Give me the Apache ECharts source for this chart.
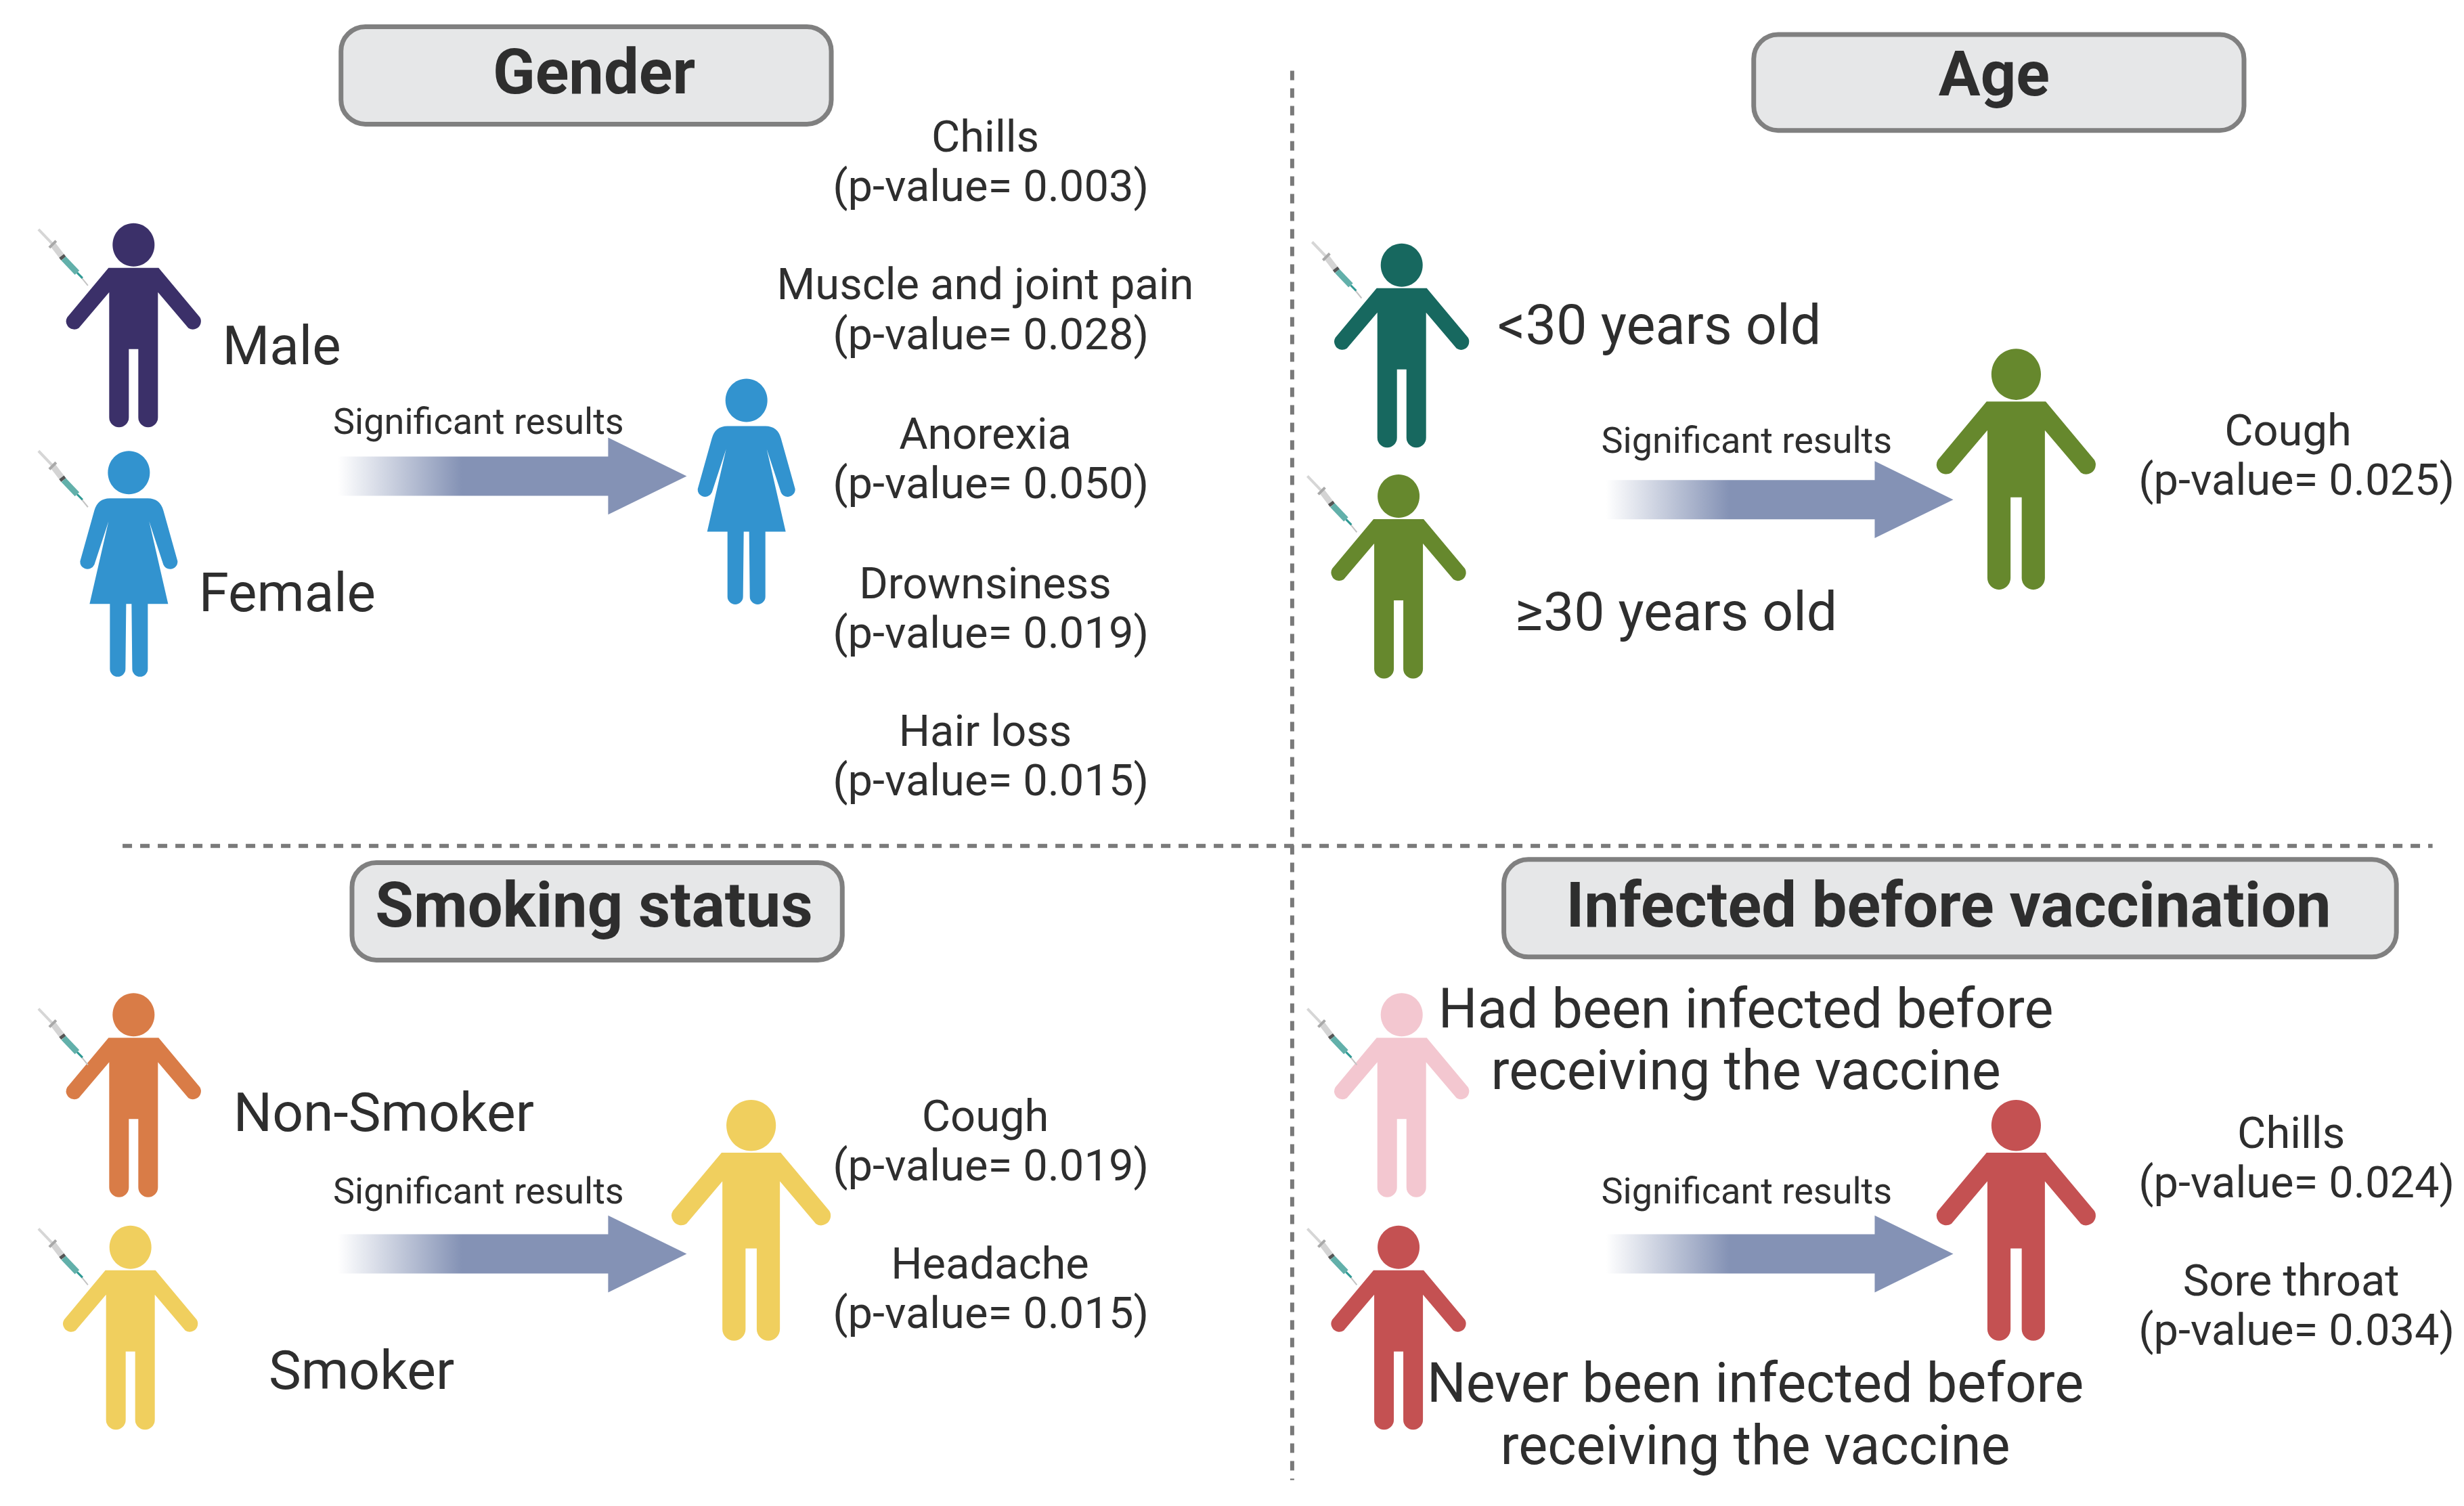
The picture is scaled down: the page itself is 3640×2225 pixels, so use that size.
<!DOCTYPE html>
<html lang="en">
<head>
    <meta charset="utf-8">
    <title>Significant results by group</title>
    <script type="text/javascript" src="https://cdn.jsdelivr.net/npm/echarts@6/dist/echarts.min.js"></script>
    <style>
        html, body { margin: 0; padding: 0; background: #fff; }
        #main { width: 3640px; height: 2225px; }
    </style>
</head>
<body>
<div id="main"></div>
<script>
    // text content
    var panelTitles = ['Gender', 'Age', 'Smoking status', 'Infected before vaccination'];
    var arrowLabel = 'Significant results';
    var genderSymptoms = ['Chills', 'Muscle and joint pain', 'Anorexia', 'Drownsiness', 'Hair loss'];
    var genderPValues = ['0.003', '0.028', '0.050', '0.019', '0.015'];
    var ageSymptoms = ['Cough'];
    var agePValues = ['0.025'];
    var smokingSymptoms = ['Cough', 'Headache'];
    var smokingPValues = ['0.019', '0.015'];
    var infectedSymptoms = ['Chills', 'Sore throat'];
    var infectedPValues = ['0.024', '0.034'];

    // coordinates below are measured on a 1568 wide view, S brings them to page size
    var S = 3640 / 1568;
    var TEXT_COLOR = '#2e2e2e';
    var FONT = 'Roboto';

    var MALE_PATH = 'M-37,66 L37,66 L98,139 A12,12 0 0 1 81,155 L36,102 L36,287 A14.5,14.5 0 0 1 7,287 L7,186 L-7,186 L-7,287 A14.5,14.5 0 0 1 -36,287 L-36,102 L-81,155 A12,12 0 0 1 -98,139 L-37,66 Z';
    var FEMALE_PATH = 'M-28,70 L28,70 Q46,70 51,88 L72,163 A11,11 0 0 1 51,168 L30,104 L58,226 L28,226 L28,322 A11.5,11.5 0 0 1 5,322 L4,226 L-4,226 L-5,322 A11.5,11.5 0 0 1 -28,322 L-28,226 L-58,226 L-30,104 L-51,168 A11,11 0 0 1 -72,163 L-51,88 Q-46,70 -28,70 Z';

    // the graphic component has no plain path type, so the two bodies are registered as shapes
    echarts.graphic.registerShape('maleBody', echarts.graphic.extendPath(MALE_PATH, {}));
    echarts.graphic.registerShape('femaleBody', echarts.graphic.extendPath(FEMALE_PATH, {}));

    var elements = [];

    function person(cx, top, color, scale, female) {
        elements.push({
            type: 'group',
            x: cx * S,
            y: top * S,
            scaleX: scale,
            scaleY: scale,
            children: [
                { type: 'ellipse', shape: { cx: 0, cy: 32, rx: 31, ry: 32 }, style: { fill: color } },
                { type: female ? 'femaleBody' : 'maleBody', style: { fill: color } }
            ]
        });
    }

    function syringe(x, y) {
        function seg(x1, y1, x2, y2, color, w) {
            return {
                type: 'line',
                shape: { x1: x1, y1: y1, x2: x2, y2: y2 },
                style: { stroke: color, lineWidth: w }
            };
        }
        elements.push({
            type: 'group',
            x: x * S,
            y: y * S,
            children: [
                seg(0, 0, 21, 22, '#d6d6d6', 4),
                seg(60, 67, 73, 83, '#c4c4c4', 2),
                seg(21, 22, 34, 39, '#d4d4d4', 9),
                seg(16, 27, 26, 17, '#a9a9a9', 4),
                seg(34, 39, 37, 43, '#555555', 9),
                seg(37, 43, 57, 64, '#62b0aa', 9),
                seg(57, 64, 65, 72, '#2f9a94', 3)
            ]
        });
    }

    function arrow(x1, x2, y) {
        var left = x1 * S, right = x2 * S, mid = y * S;
        var neck = right - 50 * S;
        var stop = 0.355;
        elements.push({
            type: 'polygon',
            shape: {
                points: [
                    [left, mid - 12.5 * S], [neck, mid - 12.5 * S], [neck, mid - 24.5 * S],
                    [right, mid], [neck, mid + 24.5 * S], [neck, mid + 12.5 * S], [left, mid + 12.5 * S]
                ]
            },
            style: {
                fill: new echarts.graphic.LinearGradient(0, 0, 1, 0, [
                    { offset: 0, color: 'rgba(132,146,181,0)' },
                    { offset: stop, color: 'rgba(132,146,181,1)' },
                    { offset: 1, color: 'rgba(132,146,181,1)' }
                ])
            }
        });
    }

    function label(str, x, y, size, align, weight) {
        elements.push({
            type: 'text',
            x: x * S,
            // middle of the em box sits a bit high against the x-height, push it down
            y: (y + size * 0.04) * S,
            style: {
                text: str,
                fill: TEXT_COLOR,
                font: (weight || 400) + ' ' + size + 'px ' + FONT,
                align: align || 'center',
                verticalAlign: 'middle'
            }
        });
    }

    function titleBox(str, x1, x2, y1, y2, textX, textY) {
        elements.push({
            type: 'rect',
            shape: { x: x1 * S, y: y1 * S, width: (x2 - x1) * S, height: (y2 - y1) * S, r: 36 },
            style: { fill: '#e6e7e8', stroke: '#808080', lineWidth: 7 }
        });
        label(str, textX, textY, 92, 'center', 700);
    }

    function symptoms(names, pvalues, nameXs, valueX, ys) {
        for (var i = 0; i < names.length; i++) {
            label(names[i], nameXs[i], ys[i], 65);
            label('(p-value= ' + pvalues[i] + ')', valueX, ys[i] + 31.5, 65);
        }
    }

    function dashed(x1, y1, x2, y2) {
        elements.push({
            type: 'line',
            shape: { x1: x1 * S, y1: y1 * S, x2: x2 * S, y2: y2 * S },
            style: { stroke: '#7a7a7a', lineWidth: 6, lineDash: [14, 12] }
        });
    }

    // separators
    dashed(822.3, 45, 822.3, 942);
    dashed(78, 538.3, 1548, 538.3);

    // Gender
    titleBox(panelTitles[0], 217, 529, 17, 79, 378, 46);
    person(85, 142, '#3b3069', 1, false);
    person(82, 287, '#3293cf', 1, true);
    person(475, 241, '#3293cf', 1, true);
    syringe(24.5, 146);
    syringe(24.5, 287);
    label('Male', 141.5, 220, 80, 'left');
    label('Female', 126.5, 377, 80, 'left');
    arrow(215, 437, 303);
    label(arrowLabel, 304.5, 268, 54);
    symptoms(genderSymptoms, genderPValues, [627, 627, 627, 627, 627], 630.5, [87, 181, 276, 371, 465]);

    // Age
    titleBox(panelTitles[1], 1116, 1428, 22, 83, 1269, 47);
    person(892, 155, '#17685f', 1, false);
    person(890, 302, '#66882d', 1, false);
    person(1283, 222, '#66882d', 1.18, false);
    syringe(835, 154);
    syringe(832, 303);
    label('<30 years old', 953, 207, 81, 'left');
    label('\u226530 years old', 964, 389, 80.5, 'left');
    arrow(1022, 1243, 318);
    label(arrowLabel, 1111.5, 280, 54);
    symptoms(ageSymptoms, agePValues, [1456], 1461.5, [274]);

    // Smoking status
    titleBox(panelTitles[2], 224, 536, 549, 611, 378, 576);
    person(85, 632, '#d97c47', 1, false);
    person(83, 780, '#f0cf5e', 1, false);
    person(478, 700, '#f0cf5e', 1.18, false);
    syringe(24.5, 642);
    syringe(24.5, 782);
    label('Non-Smoker', 148.5, 708, 80.5, 'left');
    label('Smoker', 171, 872, 80.5, 'left');
    arrow(215, 437, 798);
    label(arrowLabel, 304.5, 758, 54);
    symptoms(smokingSymptoms, smokingPValues, [627, 630], 630.5, [710, 804]);

    // Infected before vaccination
    titleBox(panelTitles[3], 957, 1525, 547, 609, 1240, 576);
    person(892, 632, '#f3c7d0', 1, false);
    person(890, 780, '#c45152', 1, false);
    person(1283, 700, '#c45152', 1.18, false);
    syringe(832, 642);
    syringe(832, 782);
    label('Had been infected before', 1111, 642, 81);
    label('receiving the vaccine', 1111, 681, 81);
    label('Never been infected before', 1117, 880, 81);
    label('receiving the vaccine', 1117, 920, 81);
    arrow(1022, 1243, 798);
    label(arrowLabel, 1111.5, 758, 54);
    symptoms(infectedSymptoms, infectedPValues, [1458, 1458], 1461.5, [721, 815]);

    var myChart = echarts.init(document.getElementById('main'));
    myChart.setOption({
        backgroundColor: '#ffffff',
        animation: false,
        graphic: { elements: elements }
    });
</script>
</body>
</html>
